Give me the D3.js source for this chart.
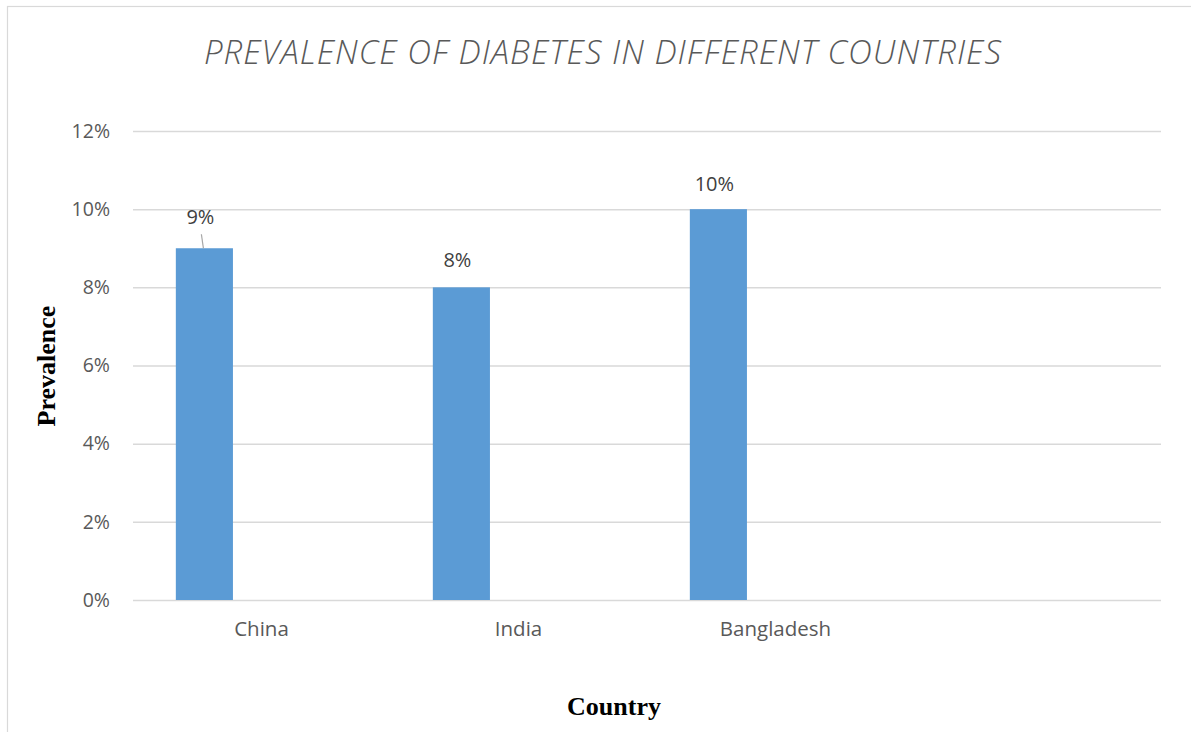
<!DOCTYPE html>
<html>
<head>
<meta charset="utf-8">
<script src="https://cdn.jsdelivr.net/npm/d3@7"></script>
<style>
  html, body { margin: 0; padding: 0; background: #fff; }
  svg { display: block; }
</style>
</head>
<body>
<div id="chart"></div>
<script>
// chart values
const countries = ['China', 'India', 'Bangladesh', ''];
const prevalence = [0.09, 0.08, 0.10, null];
const seriesSlots = ['Prevalence', 'slot2', 'slot3'];
const yTicks = [0, 0.02, 0.04, 0.06, 0.08, 0.10, 0.12];

const chartTitle = 'PREVALENCE OF DIABETES IN DIFFERENT COUNTRIES';
const xTitle = 'Country';
const yTitle = 'Prevalence';

const width = 1191;
const height = 732;
const margin = { top: 131, right: 30, bottom: 132, left: 133 };

const svg = d3.select('#chart').append('svg')
    .attr('width', width)
    .attr('height', height);

// chart frame
svg.append('rect')
    .attr('x', 7.5).attr('y', 6.5)
    .attr('width', width + 20).attr('height', height + 20)
    .attr('fill', 'none')
    .attr('stroke', '#d9d9d9')
    .attr('stroke-width', 1.2);

const x0 = d3.scaleBand()
    .domain(countries)
    .range([margin.left, width - margin.right])
    .paddingInner(0).paddingOuter(0);

const x1 = d3.scaleBand()
    .domain(seriesSlots)
    .range([0, x0.bandwidth()])
    .paddingInner(0).paddingOuter(0.75);

const y = d3.scaleLinear()
    .domain([0, 0.12])
    .range([height - margin.bottom, margin.top]);

const pct = d3.format('.0%');

// gridlines + y labels
const yAxis = g => g
    .attr('transform', `translate(${margin.left},0)`)
    .call(d3.axisLeft(y).tickValues(yTicks).tickFormat(pct)
        .tickSize(-(width - margin.left - margin.right)).tickPadding(23))
    .call(g => g.select('.domain').remove())
    .call(g => g.selectAll('.tick line').attr('stroke', '#d9d9d9').attr('stroke-width', 1.5))
    .call(g => g.selectAll('.tick text')
        .attr('fill', '#595959')
        .style('font-family', '"Open Sans", sans-serif')
        .style('font-size', '19.5px'));

svg.append('g').call(yAxis);

// category labels
const xAxis = g => g
    .attr('transform', `translate(0,${height - margin.bottom})`)
    .call(d3.axisBottom(x0).tickSize(0).tickPadding(21))
    .call(g => g.select('.domain').remove())
    .call(g => g.selectAll('.tick text')
        .attr('fill', '#595959')
        .style('font-family', '"Open Sans", sans-serif')
        .style('font-size', '20.5px'));

svg.append('g').call(xAxis);

const rows = countries.map((c, i) => ({ country: c, value: prevalence[i] }))
    .filter(d => d.value != null);

// bars
svg.append('g')
    .selectAll('rect')
    .data(rows)
    .join('rect')
    .attr('x', d => x0(d.country) + x1(seriesSlots[0]))
    .attr('y', d => y(d.value))
    .attr('width', x1.bandwidth())
    .attr('height', d => y(0) - y(d.value))
    .attr('fill', '#5b9bd5');

// data labels (China's label was dragged up, so it has a leader line)
const labelShift = d => d.country === 'China' ? 24 : (d.value >= 0.1 ? 18 : 20);
const barMid = d => x0(d.country) + x1(seriesSlots[0]) + x1.bandwidth() / 2;

svg.append('g')
    .selectAll('line')
    .data(rows.filter(d => d.country === 'China'))
    .join('line')
    .attr('x1', d => barMid(d) - 3).attr('y1', d => y(d.value) - 14)
    .attr('x2', d => barMid(d) - 1).attr('y2', d => y(d.value))
    .attr('stroke', '#a6a6a6')
    .attr('stroke-width', 1.2);

svg.append('g')
    .selectAll('text')
    .data(rows)
    .join('text')
    .attr('x', d => barMid(d) - 4)
    .attr('y', d => y(d.value) - labelShift(d))
    .attr('text-anchor', 'middle')
    .attr('fill', '#404040')
    .style('font-family', '"Open Sans", sans-serif')
    .style('font-size', '20px')
    .text(d => pct(d.value));

// titles
svg.append('text')
    .attr('x', 603).attr('y', 64)
    .attr('text-anchor', 'middle')
    .attr('fill', '#595959')
    .style('font-family', '"Open Sans", sans-serif')
    .style('font-style', 'italic')
    .style('font-weight', 300)
    .style('font-size', '33px')
    .style('letter-spacing', '1px')
    .text(chartTitle);

svg.append('text')
    .attr('x', 614).attr('y', 715)
    .attr('text-anchor', 'middle')
    .attr('fill', '#000')
    .style('font-family', '"Liberation Serif", "Times New Roman", serif')
    .style('font-weight', 'bold')
    .style('font-size', '26px')
    .text(xTitle);

svg.append('text')
    .attr('transform', 'translate(55,366) rotate(-90)')
    .attr('text-anchor', 'middle')
    .attr('fill', '#000')
    .style('font-family', '"Liberation Serif", "Times New Roman", serif')
    .style('font-weight', 'bold')
    .style('font-size', '26px')
    .text(yTitle);
</script>
</body>
</html>
